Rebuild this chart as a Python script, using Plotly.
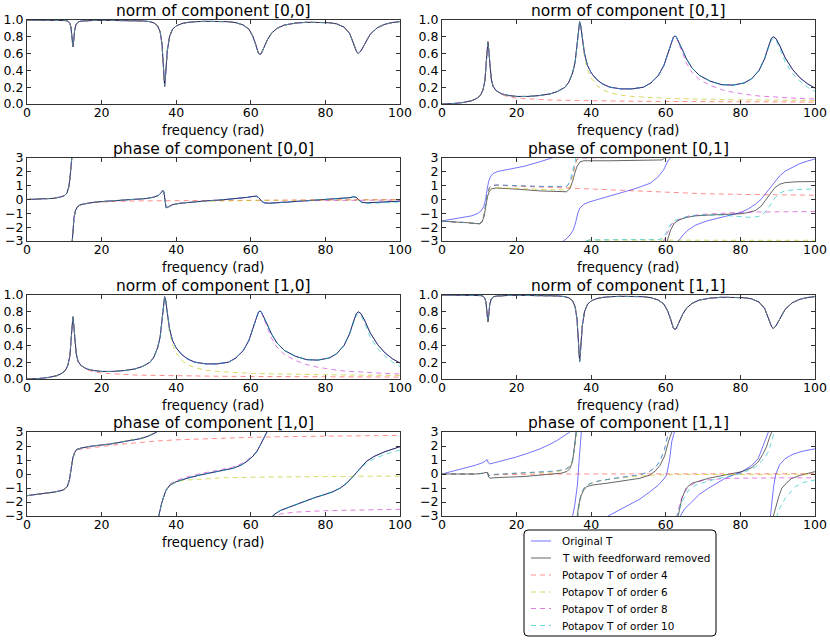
import plotly.graph_objects as go

# ---------------- data ----------------
SERIES = ["Original T", "T with feedforward removed", "Potapov T of order 4",
          "Potapov T of order 6", "Potapov T of order 8", "Potapov T of order 10"]

FREQ_NORM = [0, 3, 6, 8, 9, 10, 10.5, 11, 11.5, 11.8, 12.1, 12.3, 12.5, 12.8, 13.2, 13.7,
             14.5, 16, 18, 20, 23, 26, 29, 31, 33, 34, 35, 35.7, 36.2, 36.6, 36.9, 37.2,
             37.6, 38.2, 39, 40, 41.5, 43, 45, 48, 51, 54, 56, 58, 59.5, 60.5, 61.3, 62,
             62.4, 62.8, 63.5, 64.5, 65.5, 67, 69, 72, 75, 78, 81, 83, 85, 86.5, 87.5,
             88.3, 88.8, 89.5, 90.5, 92, 94, 96, 98, 100]

NORM_DIAG = [1.0, 1.0, 1.0, 0.999, 0.998, 0.996, 0.993, 0.985, 0.96, 0.91, 0.76, 0.68, 0.75,
             0.89, 0.95, 0.978, 0.987, 0.993, 0.995, 0.996, 0.996, 0.995, 0.993, 0.989, 0.98,
             0.966, 0.93, 0.86, 0.71, 0.43, 0.21, 0.37, 0.63, 0.8, 0.89, 0.93, 0.957, 0.971,
             0.98, 0.984, 0.984, 0.98, 0.968, 0.94, 0.89, 0.81, 0.71, 0.61, 0.59, 0.6, 0.67,
             0.77, 0.84, 0.9, 0.94, 0.963, 0.973, 0.974, 0.968, 0.954, 0.916, 0.84, 0.73,
             0.63, 0.6, 0.63, 0.71, 0.83, 0.91, 0.95, 0.97, 0.982]

NORM_OFF = [0.0, 0.005, 0.02, 0.04, 0.06, 0.09, 0.12, 0.17, 0.28, 0.42, 0.65, 0.74, 0.66,
            0.45, 0.3, 0.21, 0.16, 0.12, 0.1, 0.09, 0.09, 0.1, 0.12, 0.15, 0.2, 0.26, 0.37,
            0.5, 0.7, 0.9, 0.98, 0.93, 0.78, 0.6, 0.46, 0.37, 0.29, 0.24, 0.2, 0.18, 0.18,
            0.2, 0.25, 0.34, 0.46, 0.58, 0.7, 0.79, 0.81, 0.8, 0.74, 0.64, 0.54, 0.43, 0.34,
            0.27, 0.23, 0.225, 0.25, 0.3, 0.4, 0.54, 0.68, 0.78, 0.8, 0.78, 0.7, 0.55, 0.41,
            0.31, 0.24, 0.19]

NORM_OFF_P4 = [0.0, 0.005, 0.02, 0.04, 0.06, 0.09, 0.12, 0.17, 0.28, 0.42, 0.65, 0.74, 0.66,
               0.45, 0.3, 0.21, 0.16, 0.11, 0.085, 0.07, 0.06, 0.052, 0.047, 0.045, 0.043,
               0.042, 0.041, 0.04, 0.04, 0.04, 0.04, 0.04, 0.04, 0.039, 0.039, 0.038, 0.037,
               0.036, 0.035, 0.034, 0.033, 0.032, 0.031, 0.031, 0.03, 0.03, 0.03, 0.03, 0.03,
               0.03, 0.03, 0.029, 0.029, 0.029, 0.028, 0.028, 0.027, 0.027, 0.026, 0.026,
               0.026, 0.025, 0.025, 0.025, 0.025, 0.025, 0.025, 0.024, 0.024, 0.024, 0.023,
               0.023]

NORM_OFF_P6 = [0.0, 0.005, 0.02, 0.04, 0.06, 0.09, 0.12, 0.17, 0.28, 0.42, 0.65, 0.74, 0.66,
               0.45, 0.3, 0.21, 0.16, 0.12, 0.1, 0.09, 0.09, 0.1, 0.12, 0.15, 0.2, 0.26, 0.37,
               0.5, 0.7, 0.9, 0.98, 0.93, 0.78, 0.56, 0.41, 0.31, 0.22, 0.17, 0.135, 0.105,
               0.09, 0.08, 0.075, 0.07, 0.068, 0.066, 0.065, 0.064, 0.064, 0.063, 0.062,
               0.061, 0.06, 0.059, 0.057, 0.055, 0.053, 0.051, 0.05, 0.049, 0.048, 0.047,
               0.047, 0.046, 0.046, 0.046, 0.045, 0.045, 0.044, 0.043, 0.042, 0.042]

NORM_OFF_P8 = [0.0, 0.005, 0.02, 0.04, 0.06, 0.09, 0.12, 0.17, 0.28, 0.42, 0.65, 0.74, 0.66,
               0.45, 0.3, 0.21, 0.16, 0.12, 0.1, 0.09, 0.09, 0.1, 0.12, 0.15, 0.2, 0.26, 0.37,
               0.5, 0.7, 0.9, 0.98, 0.93, 0.78, 0.6, 0.46, 0.37, 0.29, 0.24, 0.2, 0.18, 0.18,
               0.2, 0.25, 0.34, 0.46, 0.58, 0.7, 0.79, 0.81, 0.8, 0.72, 0.6, 0.49, 0.38, 0.29,
               0.22, 0.17, 0.14, 0.115, 0.105, 0.095, 0.09, 0.087, 0.085, 0.083, 0.081, 0.078,
               0.074, 0.07, 0.066, 0.063, 0.06]

NORM_OFF_P10 = [0.0, 0.005, 0.02, 0.04, 0.06, 0.09, 0.12, 0.17, 0.28, 0.42, 0.65, 0.74, 0.66,
                0.45, 0.3, 0.21, 0.16, 0.12, 0.1, 0.09, 0.09, 0.1, 0.12, 0.15, 0.2, 0.26, 0.37,
                0.5, 0.7, 0.9, 0.98, 0.93, 0.78, 0.6, 0.46, 0.37, 0.29, 0.24, 0.2, 0.18, 0.18,
                0.2, 0.25, 0.34, 0.46, 0.58, 0.7, 0.8, 0.82, 0.8, 0.74, 0.64, 0.54, 0.43, 0.34,
                0.27, 0.23, 0.225, 0.25, 0.3, 0.4, 0.54, 0.66, 0.76, 0.78, 0.76, 0.67, 0.5,
                0.36, 0.27, 0.2, 0.15]

# phase curves: (frequency, phase) pairs, (None, None) = wrap break
PH00_MAIN = [(0, 0), (4, 0.03), (7, 0.08), (9, 0.18), (10, 0.28), (10.7, 0.45), (11.2, 0.9),
             (11.5, 1.5), (11.8, 2.4), (12.0, 3.0), (12.05, 3.14), (None, None), (12.1, -3.14),
             (12.3, -2.2), (12.6, -1.3), (13.0, -0.8), (13.6, -0.5), (14.5, -0.36), (16, -0.27),
             (18, -0.2), (21, -0.13), (25, -0.07), (29, 0.0), (32, 0.07), (34, 0.17), (35.3, 0.3),
             (36.0, 0.5), (36.4, 0.66), (36.7, 0.55), (37.0, -0.2), (37.3, -0.6), (38.0, -0.52),
             (39, -0.38), (41, -0.27), (44, -0.18), (48, -0.1), (52, -0.03), (56, 0.05),
             (59, 0.15), (60.5, 0.22), (61.5, 0.24), (62.2, 0.12), (62.9, -0.12), (63.6, -0.24),
             (65, -0.27), (68, -0.22), (72, -0.15), (76, -0.08), (80, -0.02), (84, 0.06),
             (86.5, 0.13), (87.6, 0.2), (88.3, 0.15), (89.0, -0.05), (89.8, -0.2), (91, -0.24),
             (94, -0.2), (97, -0.15), (100, -0.12)]
PH00_P4 = [(0, 0), (4, 0.03), (7, 0.08), (9, 0.18), (10, 0.28), (10.7, 0.45), (11.2, 0.9),
           (11.5, 1.5), (11.8, 2.4), (12.0, 3.0), (12.05, 3.14), (None, None), (12.1, -3.14),
           (12.3, -2.2), (12.6, -1.3), (13.0, -0.8), (13.6, -0.5), (14.5, -0.36), (16, -0.27),
           (18, -0.21), (21, -0.16), (25, -0.13), (30, -0.1), (35, -0.09), (40, -0.07),
           (50, -0.05), (60, -0.04), (70, -0.03), (80, -0.02), (90, -0.01), (100, 0.0)]
PH00_P6 = [(0, 0), (4, 0.03), (7, 0.08), (9, 0.18), (10, 0.28), (10.7, 0.45), (11.2, 0.9),
           (11.5, 1.5), (11.8, 2.4), (12.0, 3.0), (12.05, 3.14), (None, None), (12.1, -3.14),
           (12.3, -2.2), (12.6, -1.3), (13.0, -0.8), (13.6, -0.5), (14.5, -0.36), (16, -0.27),
           (18, -0.2), (21, -0.13), (25, -0.07), (29, 0.0), (32, 0.07), (34, 0.17), (35.3, 0.3),
           (36.0, 0.5), (36.4, 0.66), (36.7, 0.55), (37.0, -0.2), (37.3, -0.6), (38.0, -0.52),
           (39, -0.38), (41, -0.26), (44, -0.18), (48, -0.13), (52, -0.1), (56, -0.08),
           (60, -0.07), (65, -0.06), (70, -0.05), (80, -0.04), (90, -0.035), (100, -0.03)]
PH00_P8 = [(0, 0), (4, 0.03), (7, 0.08), (9, 0.18), (10, 0.28), (10.7, 0.45), (11.2, 0.9),
           (11.5, 1.5), (11.8, 2.4), (12.0, 3.0), (12.05, 3.14), (None, None), (12.1, -3.14),
           (12.3, -2.2), (12.6, -1.3), (13.0, -0.8), (13.6, -0.5), (14.5, -0.36), (16, -0.27),
           (18, -0.2), (21, -0.13), (25, -0.07), (29, 0.0), (32, 0.07), (34, 0.17), (35.3, 0.3),
           (36.0, 0.5), (36.4, 0.66), (36.7, 0.55), (37.0, -0.2), (37.3, -0.6), (38.0, -0.52),
           (39, -0.38), (41, -0.27), (44, -0.18), (48, -0.1), (52, -0.03), (56, 0.05),
           (59, 0.15), (60.5, 0.22), (61.5, 0.24), (62.2, 0.12), (62.9, -0.12), (63.6, -0.24),
           (65, -0.25), (68, -0.18), (72, -0.12), (76, -0.09), (80, -0.07), (85, -0.06),
           (90, -0.05), (100, -0.04)]
PH00_P10 = [(0, 0), (4, 0.03), (7, 0.08), (9, 0.18), (10, 0.28), (10.7, 0.45), (11.2, 0.9),
            (11.5, 1.5), (11.8, 2.4), (12.0, 3.0), (12.05, 3.14), (None, None), (12.1, -3.14),
            (12.3, -2.2), (12.6, -1.3), (13.0, -0.8), (13.6, -0.5), (14.5, -0.36), (16, -0.27),
            (18, -0.2), (21, -0.13), (25, -0.07), (29, 0.0), (32, 0.07), (34, 0.17), (35.3, 0.3),
            (36.0, 0.5), (36.4, 0.66), (36.7, 0.55), (37.0, -0.2), (37.3, -0.6), (38.0, -0.52),
            (39, -0.38), (41, -0.27), (44, -0.18), (48, -0.1), (52, -0.03), (56, 0.05),
            (59, 0.15), (60.5, 0.22), (61.5, 0.24), (62.2, 0.12), (62.9, -0.12), (63.6, -0.24),
            (65, -0.27), (68, -0.22), (72, -0.15), (76, -0.08), (80, -0.02), (84, 0.06),
            (86.5, 0.13), (87.6, 0.2), (88.3, 0.15), (89.0, -0.05), (89.8, -0.25), (91, -0.3),
            (94, -0.27), (97, -0.22), (100, -0.18)]

PH01_ORIG = [(0, -1.55), (3, -1.43), (6, -1.3), (8, -1.18), (9.5, -1.02), (10.5, -0.82),
             (11.2, -0.5), (11.7, 0.0), (12.1, 0.75), (12.5, 1.3), (13, 1.65), (13.7, 1.88),
             (15, 2.03), (18, 2.2), (22, 2.4), (26.3, 2.73), (29, 2.97), (30, 3.06), (31, 3.14),
             (None, None), (31.1, -3.14), (32.6, -3.0), (33.5, -2.8), (34.5, -2.5), (35.2, -2.2),
             (35.8, -1.7), (36.4, -1.0), (37, -0.6), (38.2, -0.32), (39.7, -0.16), (42, 0.02),
             (44, 0.18), (48.6, 0.52), (52, 0.8), (55.8, 1.17), (57.8, 1.6), (59.4, 2.13),
             (60.7, 2.86), (61.3, 3.0), (61.6, 3.14), (None, None), (62.0, -3.14), (63.4, -3.0),
             (64.5, -2.6), (66, -2.2), (68, -1.85), (71, -1.55), (74, -1.35), (77, -1.15),
             (80, -0.95), (82, -0.7), (84, -0.35), (85.5, 0.0), (86.8, 0.45), (88, 0.85),
             (89.2, 1.3), (90.5, 1.7), (92, 2.05), (94, 2.35), (96, 2.6), (98, 2.78), (100, 2.93)]
PH01_FF = [(0, -1.57), (4, -1.62), (7, -1.68), (9, -1.74), (10, -1.75), (10.7, -1.65),
           (11.3, -1.2), (11.8, -0.4), (12.2, 0.2), (12.7, 0.6), (13.4, 0.78), (14.5, 0.83),
           (16, 0.82), (20, 0.75), (26.3, 0.62), (30, 0.57), (33.4, 0.56), (34.3, 0.8), (35, 1.3),
           (35.6, 1.9), (36.2, 2.4), (37, 2.72), (38, 2.8), (45, 2.8), (55, 2.82), (59, 2.86),
           (59.7, 3.0), (60.1, 3.14), (None, None), (60.2, -3.14), (60.5, -2.9), (61.3, -2.2),
           (62.3, -1.7), (63.8, -1.45), (65.5, -1.3), (68, -1.18), (72, -1.12), (76, -1.08),
           (80, -1.03), (82, -0.95), (84, -0.8), (85.5, -0.5), (86.8, -0.05), (88, 0.45),
           (89.2, 0.85), (90.5, 1.1), (92, 1.22), (95, 1.28), (100, 1.3)]
PH01_P4 = [(0, -1.57), (4, -1.62), (7, -1.68), (9, -1.74), (10, -1.75), (10.7, -1.62),
           (11.3, -1.1), (11.8, -0.2), (12.2, 0.45), (12.7, 0.85), (13.4, 1.0), (14.5, 1.03),
           (16, 1.02), (20, 0.97), (26.3, 0.9), (30, 0.87), (35.2, 0.81), (40, 0.74), (50, 0.62),
           (63.8, 0.47), (70, 0.42), (80, 0.37), (90, 0.33), (100, 0.31)]
PH01_P6 = [(0, -1.57), (4, -1.62), (7, -1.68), (9, -1.74), (10, -1.75), (10.7, -1.62),
           (11.3, -1.1), (11.8, -0.25), (12.2, 0.35), (12.7, 0.7), (13.4, 0.83), (14.5, 0.86),
           (16, 0.85), (20, 0.8), (26.3, 0.73), (30, 0.7), (33.4, 0.7), (34.3, 0.95), (35, 1.5),
           (35.6, 2.3), (36.1, 3.0), (36.4, 3.14), (None, None), (36.6, -3.14), (38, -3.0),
           (39.7, -2.93), (50, -2.92), (60, -2.93), (70, -2.94), (80, -2.95), (100, -2.95)]
PH01_P8 = [(0, -1.57), (4, -1.62), (7, -1.68), (9, -1.74), (10, -1.75), (10.7, -1.62),
           (11.3, -1.1), (11.8, -0.2), (12.2, 0.45), (12.7, 0.85), (13.4, 1.0), (14.5, 1.05),
           (16, 1.05), (20, 1.0), (26.3, 0.95), (30, 0.93), (33.4, 0.93), (34.3, 1.2), (35, 1.8),
           (35.6, 2.5), (36.1, 2.88), (37, 3.0), (45, 3.03), (55, 3.04), (58.5, 3.07), (59, 3.14),
           (None, None), (59.2, -3.14), (59.8, -2.8), (60.5, -2.3), (61.5, -1.8), (62.5, -1.55),
           (63.8, -1.4), (66, -1.2), (70, -1.07), (75, -0.97), (80, -0.92), (90, -0.89),
           (100, -0.87)]
PH01_P10 = [(0, -1.57), (4, -1.62), (7, -1.68), (9, -1.74), (10, -1.75), (10.7, -1.62),
            (11.3, -1.1), (11.8, -0.2), (12.2, 0.45), (12.7, 0.85), (13.4, 1.0), (14.5, 1.05),
            (16, 1.05), (20, 1.0), (26.3, 0.95), (30, 0.94), (33.4, 0.95), (34.3, 1.3), (35, 2.0),
            (35.6, 2.7), (36, 3.14), (None, None), (36.2, -3.14), (38, -3.0), (39.7, -2.92),
            (50, -2.9), (58, -2.9), (59.4, -2.8), (60.2, -2.3), (61.2, -1.8), (62.5, -1.5),
            (63.8, -1.38), (66, -1.22), (70, -1.12), (75, -1.12), (78, -1.2), (80, -1.25),
            (83, -1.3), (85, -1.22), (86.5, -0.95), (88, -0.4), (89.2, 0.1), (90.5, 0.45),
            (92, 0.63), (95, 0.72), (100, 0.77)]

PH10_MAIN = [(0, -1.55), (4, -1.42), (7, -1.3), (9, -1.2), (10, -1.1), (10.8, -0.9), (11.4, -0.4),
             (11.9, 0.5), (12.3, 1.15), (12.8, 1.55), (13.3, 1.75), (14.5, 1.85), (17, 1.98),
             (22.3, 2.14), (26, 2.3), (30.3, 2.52), (32.5, 2.7), (34, 2.88), (34.8, 3.0),
             (35.1, 3.14), (None, None), (35.2, -3.14), (35.6, -2.6), (36.1, -2.1), (36.5, -1.75),
             (37.2, -1.2), (38.3, -0.8), (40, -0.55), (43, -0.3), (46.4, -0.07), (51, 0.18),
             (55.3, 0.41), (57.5, 0.65), (58.9, 0.89), (60.5, 1.25), (61.6, 1.6), (62.6, 2.1),
             (63.4, 2.57), (64.2, 3.0), (64.6, 3.14), (None, None), (65.3, -3.14), (66.5, -2.85),
             (68, -2.6), (71, -2.3), (74, -1.95), (77, -1.7), (80, -1.45), (82, -1.27),
             (84, -1.0), (85.5, -0.7), (87, -0.3), (88.3, 0.1), (89.5, 0.5), (91, 0.9),
             (93, 1.25), (96, 1.6), (100, 1.95)]
PH10_P4 = [(0, -1.55), (4, -1.42), (7, -1.3), (9, -1.2), (10, -1.1), (10.8, -0.9), (11.4, -0.4),
           (11.9, 0.5), (12.3, 1.15), (12.8, 1.55), (13.3, 1.72), (14.5, 1.78), (16, 1.84),
           (18, 1.9), (22, 2.03), (26, 2.15), (30, 2.26), (35, 2.36), (40, 2.44), (50, 2.55),
           (60, 2.62), (70, 2.67), (80, 2.71), (90, 2.74), (100, 2.76)]
PH10_P6 = [(0, -1.55), (4, -1.42), (7, -1.3), (9, -1.2), (10, -1.1), (10.8, -0.9), (11.4, -0.4),
           (11.9, 0.5), (12.3, 1.15), (12.8, 1.55), (13.3, 1.75), (14.5, 1.85), (17, 1.99),
           (22.3, 2.16), (26, 2.33), (30.3, 2.56), (32.5, 2.74), (34, 2.92), (34.8, 3.05),
           (35.0, 3.14), (None, None), (35.1, -3.14), (35.6, -2.6), (36.1, -2.1), (36.5, -1.75),
           (37.2, -1.2), (38.3, -0.8), (40, -0.57), (41, -0.5), (43, -0.43), (47, -0.35),
           (52, -0.28), (60, -0.23), (70, -0.19), (80, -0.17), (90, -0.16), (100, -0.15)]
PH10_P8 = [(0, -1.55), (4, -1.42), (7, -1.3), (9, -1.2), (10, -1.1), (10.8, -0.9), (11.4, -0.4),
           (11.9, 0.5), (12.3, 1.15), (12.8, 1.55), (13.3, 1.75), (14.5, 1.85), (17, 1.98),
           (22.3, 2.14), (26, 2.3), (30.3, 2.52), (32.5, 2.7), (34, 2.88), (34.8, 3.0),
           (35.1, 3.14), (None, None), (35.2, -3.14), (35.6, -2.6), (36.1, -2.1), (36.5, -1.75),
           (37.2, -1.15), (38.3, -0.72), (40, -0.46), (43, -0.2), (46.4, 0.02), (51, 0.26),
           (55.3, 0.5), (57.5, 0.74), (58.9, 0.97), (60.5, 1.3), (61.6, 1.62), (62.6, 2.1),
           (63.4, 2.57), (64.2, 3.0), (64.6, 3.14), (None, None), (65.3, -3.14), (66, -3.0),
           (68, -2.85), (72, -2.72), (80, -2.62), (90, -2.56), (100, -2.52)]
PH10_P10 = [(0, -1.55), (4, -1.42), (7, -1.3), (9, -1.2), (10, -1.1), (10.8, -0.9), (11.4, -0.4),
            (11.9, 0.5), (12.3, 1.15), (12.8, 1.55), (13.3, 1.75), (14.5, 1.85), (17, 1.98),
            (22.3, 2.14), (26, 2.3), (30.3, 2.52), (32.5, 2.7), (34, 2.88), (34.8, 3.0),
            (35.1, 3.14), (None, None), (35.2, -3.14), (35.6, -2.6), (36.1, -2.1), (36.5, -1.75),
            (37.2, -1.2), (38.3, -0.8), (40, -0.55), (43, -0.3), (46.4, -0.07), (51, 0.18),
            (55.3, 0.41), (57.5, 0.65), (58.9, 0.89), (60.5, 1.25), (61.6, 1.6), (62.6, 2.1),
            (63.4, 2.57), (64.2, 3.0), (64.6, 3.14), (None, None), (65.3, -3.14), (66.5, -2.85),
            (68, -2.6), (71, -2.3), (74, -1.95), (77, -1.7), (80, -1.45), (82, -1.27),
            (84, -1.0), (85.5, -0.7), (87, -0.3), (88.3, 0.08), (89.5, 0.42), (91, 0.78),
            (93, 1.08), (96, 1.4), (100, 1.72)]

PH11_ORIG = [(0, 0.0), (3, 0.2), (6, 0.42), (9, 0.63), (11, 0.82), (11.8, 0.95), (12.1, 1.03),
             (12.4, 0.8), (12.8, 0.72), (14, 0.8), (17, 1.0), (20, 1.22), (23, 1.48), (26.3, 1.8),
             (29, 2.13), (31, 2.42), (33, 2.78), (34.3, 3.0), (34.6, 3.14), (None, None),
             (34.8, -3.14), (35.0, -3.05), (35.6, -2.2), (36.3, -0.79), (36.8, 1.12), (37.2, 2.9),
             (37.4, 3.14), (None, None), (44.0, -3.14), (44.2, -3.05), (47, -2.65), (50, -2.25),
             (53, -1.8), (55.8, -1.26), (58, -0.8), (59.5, -0.35), (60.2, -0.07), (61, 1.0),
             (61.6, 2.31), (62.3, 3.0), (62.6, 3.14), (None, None), (63.6, -3.14), (63.8, -3.05),
             (65, -2.5), (67, -1.98), (69, -1.45), (71.4, -1.02), (75.9, -0.31), (80.4, 0.17),
             (83, 0.6), (84.8, 1.12), (86.6, 2.31), (87.5, 3.0), (87.7, 3.14), (None, None),
             (88.0, -3.14), (88.4, -2.0), (88.9, -0.9), (89.5, 0.0), (90.5, 0.65), (92, 1.1),
             (94, 1.4), (96.5, 1.62), (100, 1.8)]
PH11_FF = [(0, 0), (5, -0.01), (9, 0.0), (11, 0.05), (11.8, 0.12), (12.2, 0.08), (12.5, -0.22),
           (12.9, -0.3), (14, -0.27), (18, -0.22), (22, -0.18), (26.3, -0.08), (30, -0.02),
           (32, 0.06), (33.5, 0.18), (34.3, 0.4), (35, 0.9), (35.4, 1.6), (35.7, 2.4),
           (36.0, 3.14), (None, None), (36.2, -3.14), (36.6, -2.3), (37.2, -1.6), (38.0, -1.15),
           (38.8, -0.9), (40.5, -0.78), (44.2, -0.66), (48, -0.5), (53, -0.31), (55.8, -0.07),
           (57.3, 0.25), (58.5, 0.64), (59.7, 1.3), (60.7, 2.3), (61.6, 3.0), (61.8, 3.14),
           (None, None), (63.0, -3.14), (63.4, -2.9), (64.3, -1.74), (65.5, -1.0), (67, -0.66),
           (71.4, -0.31), (75.9, -0.07), (80.4, 0.17), (83, 0.45), (84.8, 0.88), (86, 1.4),
           (87, 1.95), (87.8, 2.6), (88.4, 3.0), (88.6, 3.14), (None, None), (88.7, -3.14),
           (89.5, -2.3), (90.3, -1.6), (91.1, -1.02), (92.5, -0.6), (93.8, -0.31), (96, -0.1),
           (98.2, 0.05), (100, 0.17)]
PH11_P4 = [(0, 0), (5, -0.01), (9, 0.0), (11, 0.05), (11.8, 0.12), (12.2, 0.1), (12.5, -0.08),
           (12.9, -0.1), (14, -0.06), (18, -0.03), (25, -0.01), (35, 0.0), (50, 0.0), (70, 0.01),
           (85, 0.015), (100, 0.02)]
PH11_P6 = [(0, 0), (5, -0.01), (9, 0.0), (11, 0.05), (11.8, 0.12), (12.2, 0.1), (12.5, -0.1),
           (12.9, -0.12), (14, -0.05), (20, 0.05), (26.3, 0.1), (30, 0.15), (33, 0.28),
           (34.3, 0.5), (35, 0.9), (35.5, 1.6), (35.9, 2.4), (36.2, 3.14), (None, None),
           (36.4, -3.14), (36.8, -2.3), (37.4, -1.5), (38.2, -1.0), (38.8, -0.8), (42, -0.48),
           (47, -0.3), (52, -0.17), (56, -0.08), (62, -0.04), (70, -0.03), (85, -0.025),
           (100, -0.02)]
PH11_P8 = [(0, 0), (5, -0.01), (9, 0.0), (11, 0.05), (11.8, 0.12), (12.2, 0.1), (12.5, -0.1),
           (12.9, -0.12), (14, -0.03), (20, 0.08), (26.3, 0.15), (30, 0.2), (33, 0.32),
           (34.3, 0.55), (35, 1.0), (35.5, 1.8), (35.9, 2.6), (36.1, 3.14), (None, None),
           (36.3, -3.14), (36.7, -2.2), (37.3, -1.4), (38.2, -0.95), (39.5, -0.7), (42, -0.5),
           (46, -0.32), (50, -0.18), (53, -0.05), (55.5, 0.15), (57.3, 0.5), (58.5, 0.95),
           (59.6, 1.7), (60.4, 2.6), (60.9, 3.14), (None, None), (62.8, -3.14), (63.2, -2.7),
           (64, -1.9), (65, -1.3), (66.5, -0.85), (68, -0.62), (70, -0.45), (75, -0.34),
           (80, -0.3), (90, -0.28), (100, -0.27)]
PH11_P10 = [(0, 0), (5, -0.01), (9, 0.0), (11, 0.05), (11.8, 0.12), (12.2, 0.1), (12.5, -0.1),
            (12.9, -0.12), (14, -0.03), (20, 0.08), (26.3, 0.15), (30, 0.2), (33, 0.32),
            (34.3, 0.55), (35, 1.0), (35.5, 1.8), (35.9, 2.6), (36.1, 3.14), (None, None),
            (36.3, -3.14), (36.7, -2.2), (37.3, -1.4), (38.2, -0.95), (39.5, -0.7), (42, -0.5),
            (46, -0.32), (50, -0.18), (53, -0.05), (55.5, 0.15), (57.3, 0.5), (58.5, 0.95),
            (59.6, 1.7), (60.4, 2.6), (60.9, 3.14), (None, None), (62.9, -3.14), (63.5, -2.6),
            (64.5, -1.9), (66, -1.2), (68, -0.8), (71.4, -0.5), (76, -0.2), (80.4, 0.05),
            (84, 0.5), (86, 1.0), (87.5, 1.6), (88.5, 2.4), (89.3, 3.14), (None, None),
            (89.7, -3.14), (90.2, -2.6), (92, -1.74), (94.7, -0.9), (97, -0.6), (100, -0.43)]

TITLES = ["norm of component [0,0]", "norm of component [0,1]",
          "phase of component [0,0]", "phase of component [0,1]",
          "norm of component [1,0]", "norm of component [1,1]",
          "phase of component [1,0]", "phase of component [1,1]"]
XLABEL = "frequency (rad)"

# ---------------- styling ----------------
COLORS = ["rgba(0,0,255,0.55)", "rgba(0,0,0,0.6)", "rgba(255,0,0,0.45)",
          "rgba(191,191,0,0.6)", "rgba(191,0,191,0.5)", "rgba(0,191,191,0.6)"]
DASHES = ["solid", "solid", "5px,4px", "5px,4px", "5px,4px", "5px,4px"]

W, H = 830, 642
COL_X = [(27, 400), (442, 815)]
ROW_Y = [(20, 104), (158, 241), (295, 379), (432, 516)]
FONT = "DejaVu Sans, Verdana, sans-serif"
TITLE_SIZE = 15.5
TICK_SIZE = 12.5
XLABEL_SIZE = 13.2
LEGEND_SIZE = 10.4
LEG_BOX = (524, 530, 716, 636)
LEG_LINE_X = (531, 551)
LEG_TEXT_X = 561
LEG_ROW_Y = [541, 558, 575, 592, 608.5, 625.5]


def px(x):
    return x / W


def py(y):
    return 1 - y / H


def unzip(pairs):
    return [p[0] for p in pairs], [p[1] for p in pairs]


def norm_set(arrs):
    return [(FREQ_NORM, a) for a in arrs]


def phase_set(lists):
    return [unzip(p) for p in lists]


PANELS = [
    ("norm", norm_set([NORM_DIAG] * 6)),
    ("norm", norm_set([NORM_OFF, NORM_OFF, NORM_OFF_P4, NORM_OFF_P6, NORM_OFF_P8, NORM_OFF_P10])),
    ("phase", phase_set([PH00_MAIN, PH00_MAIN, PH00_P4, PH00_P6, PH00_P8, PH00_P10])),
    ("phase", phase_set([PH01_ORIG, PH01_FF, PH01_P4, PH01_P6, PH01_P8, PH01_P10])),
    ("norm", norm_set([NORM_OFF, NORM_OFF, NORM_OFF_P4, NORM_OFF_P6, NORM_OFF_P8, NORM_OFF_P10])),
    ("norm", norm_set([NORM_DIAG] * 6)),
    ("phase", phase_set([PH10_MAIN, PH10_MAIN, PH10_P4, PH10_P6, PH10_P8, PH10_P10])),
    ("phase", phase_set([PH11_ORIG, PH11_FF, PH11_P4, PH11_P6, PH11_P8, PH11_P10])),
]

fig = go.Figure()
layout = dict(width=W, height=H, margin=dict(l=0, r=0, t=0, b=0),
              paper_bgcolor="white", plot_bgcolor="white",
              font=dict(family=FONT, size=12, color="black"),
              showlegend=False)
annotations = []
shapes = []

for i, (kind, curves) in enumerate(PANELS):
    r, c = divmod(i, 2)
    x0, x1 = COL_X[c]
    y0, y1 = ROW_Y[r]
    sfx = "" if i == 0 else str(i + 1)
    for k, (xs, ys) in enumerate(curves):
        fig.add_trace(go.Scatter(
            x=xs, y=ys, mode="lines", name=SERIES[k], legendgroup=SERIES[k],
            showlegend=False, connectgaps=False,
            line=dict(color=COLORS[k], width=1, dash=DASHES[k]),
            xaxis="x" + sfx, yaxis="y" + sfx, hoverinfo="skip"))
    axis_common = dict(showline=True, linecolor="#333", linewidth=1, mirror="ticks",
                       ticks="inside", ticklen=4, tickcolor="#333", showgrid=False,
                       zeroline=False, automargin=False,
                       tickfont=dict(family=FONT, size=TICK_SIZE, color="black"))
    layout["xaxis" + sfx] = dict(axis_common, domain=[px(x0), px(x1)], range=[0, 100],
                                 tick0=0, dtick=20, anchor="y" + sfx, ticklabelstandoff=-3)
    if kind == "norm":
        yax = dict(range=[0, 1], tick0=0, dtick=0.2, tickformat=".1f")
    else:
        yax = dict(range=[-3, 3], tick0=-3, dtick=1)
    layout["yaxis" + sfx] = dict(axis_common, domain=[py(y1), py(y0)],
                                 anchor="x" + sfx, **yax)
    xc = px((x0 + x1) / 2)
    annotations.append(dict(text=TITLES[i], x=xc, y=py(y0 - 9), xref="paper", yref="paper",
                            xanchor="center", yanchor="middle", showarrow=False, borderpad=0,
                            font=dict(family=FONT, size=TITLE_SIZE, color="black")))
    if i != 7:  # the last panel's label sits under the legend in the reference
        annotations.append(dict(text=XLABEL, x=xc, y=py(y1 + 26),
                                xref="paper", yref="paper", xanchor="center",
                                yanchor="middle", showarrow=False, borderpad=0,
                                font=dict(family=FONT, size=XLABEL_SIZE, color="black")))

# legend box (rounded) with line samples and labels
bx0, by0, bx1, by1 = LEG_BOX
rr = 4
path = (f"M {px(bx0 + rr)},{py(by0)} L {px(bx1 - rr)},{py(by0)} "
        f"Q {px(bx1)},{py(by0)} {px(bx1)},{py(by0 + rr)} L {px(bx1)},{py(by1 - rr)} "
        f"Q {px(bx1)},{py(by1)} {px(bx1 - rr)},{py(by1)} L {px(bx0 + rr)},{py(by1)} "
        f"Q {px(bx0)},{py(by1)} {px(bx0)},{py(by1 - rr)} L {px(bx0)},{py(by0 + rr)} "
        f"Q {px(bx0)},{py(by0)} {px(bx0 + rr)},{py(by0)} Z")
shapes.append(dict(type="path", path=path, xref="paper", yref="paper",
                   fillcolor="white", line=dict(color="black", width=1), layer="above"))
for k, name in enumerate(SERIES):
    yy = py(LEG_ROW_Y[k])
    shapes.append(dict(type="line", xref="paper", yref="paper",
                       x0=px(LEG_LINE_X[0]), x1=px(LEG_LINE_X[1]), y0=yy, y1=yy,
                       line=dict(color=COLORS[k], width=1, dash=DASHES[k]), layer="above"))
    annotations.append(dict(text=name, x=px(LEG_TEXT_X), y=yy, xref="paper", yref="paper",
                            xanchor="left", yanchor="middle", showarrow=False, borderpad=0,
                            font=dict(family=FONT, size=LEGEND_SIZE, color="black")))

layout["annotations"] = annotations
layout["shapes"] = shapes
fig.update_layout(**layout)
fig.write_html("out.html", config={"displayModeBar": False, "staticPlot": True},
               post_script="document.body.style.margin='0px';")
